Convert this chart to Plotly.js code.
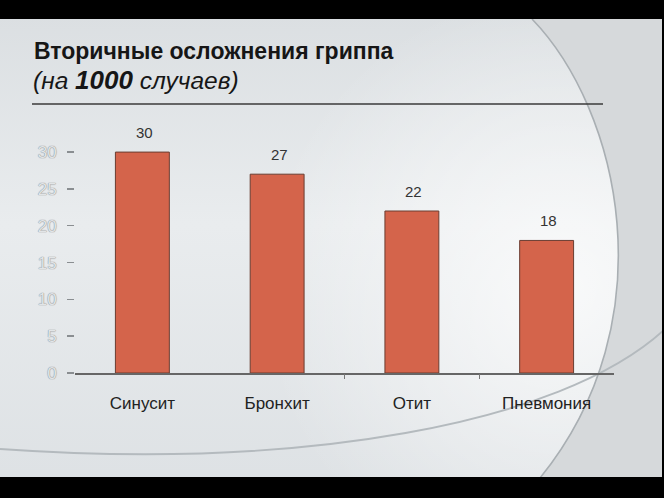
<!DOCTYPE html>
<html>
<head>
<meta charset="utf-8">
<script src="https://cdn.plot.ly/plotly-3.0.1.min.js"></script>
<style>
  html, body { margin: 0; padding: 0; background: #000; }
  #wrap { position: relative; width: 664px; height: 498px; overflow: hidden; }
  #bg { position: absolute; left: 0; top: 0; }
  #chart { position: absolute; left: 0; top: 0; width: 664px; height: 498px; }
</style>
</head>
<body>
<div id="wrap">
  <svg id="bg" width="664" height="498" xmlns="http://www.w3.org/2000/svg">
    <defs>
      <linearGradient id="lg" x1="0" y1="0" x2="0" y2="1">
        <stop offset="0" stop-color="#dadee1"/>
        <stop offset="0.45" stop-color="#e9ecee"/>
        <stop offset="1" stop-color="#dde1e4"/>
      </linearGradient>
      <radialGradient id="rg" cx="560" cy="290" r="300" gradientUnits="userSpaceOnUse">
        <stop offset="0" stop-color="#ffffff" stop-opacity="0.75"/>
        <stop offset="1" stop-color="#ffffff" stop-opacity="0"/>
      </radialGradient>
    </defs>
    <rect x="0" y="0" width="664" height="498" fill="url(#lg)"/>
    <rect x="0" y="0" width="664" height="498" fill="url(#rg)"/>
    <path d="M 532 19 C 620 110, 668 320, 540 478 L 664 478 L 664 19 Z" fill="#d6d9db"/>
    <path d="M 532 19 C 620 110, 668 320, 540 478" fill="none" stroke="#a9afb3" stroke-width="1.6"/>
    <path d="M 0 449 C 300 470, 560 425, 664 330" fill="none" stroke="#b4babe" stroke-width="1.8"/>
    <rect x="0" y="0" width="664" height="19" fill="#000"/>
    <rect x="0" y="477" width="664" height="21" fill="#000"/>
    <rect x="662" y="0" width="2" height="498" fill="#000"/>
  </svg>
  <div id="chart"></div>
</div>
<script>
const categories = ["Синусит", "Бронхит", "Отит", "Пневмония"];
const values = [30, 27, 22, 18];
const yTickVals = [0, 5, 10, 15, 20, 25, 30];
const yTickText = ["0", "5", "10", "15", "20", "25", "30"];
const boundaryTicks = [1.5, 2.5];
const titleLine1 = "Вторичные осложнения гриппа";
const titleLine2 = "<i>(на </i><b><i><span style=\"font-size:26px\">1000</span></i></b><i> случаев)</i>";

// plot area in pixels: left 75, right 614, top 130, bottom 373
const L = 75, W = 539, B = 373, H = 243;
const px = x => (x - L) / W;
const py = y => (B - y) / H;

const trace = {
  type: "bar",
  x: categories,
  y: values,
  width: 0.4,
  marker: { color: "#d4644b", line: { color: "#6a3d31", width: 1 } },
  hoverinfo: "x+y"
};

const labelAnns = categories.map((c, i) => ({
  x: c, y: values[i], xref: "x", yref: "y",
  text: String(values[i]), showarrow: false,
  yanchor: "bottom", yshift: 9, xshift: 2,
  font: { family: "Liberation Sans, Arial, sans-serif", size: 15, color: "#333333" }
}));

const titleAnns = [
  { xref: "paper", yref: "paper", x: px(32), y: py(51), xanchor: "left", yanchor: "middle",
    text: "<b>" + titleLine1 + "</b>", showarrow: false,
    font: { family: "Liberation Sans, Arial, sans-serif", size: 23, color: "#161616" } },
  { xref: "paper", yref: "paper", x: px(31), y: py(80), xanchor: "left", yanchor: "middle",
    text: titleLine2, showarrow: false,
    font: { family: "Liberation Sans, Arial, sans-serif", size: 24.5, color: "#161616" } }
];

const layout = {
  width: 664, height: 498,
  margin: { l: L, r: 664 - L - W, t: B - H, b: 498 - B, pad: 0 },
  paper_bgcolor: "rgba(0,0,0,0)",
  plot_bgcolor: "rgba(0,0,0,0)",
  showlegend: false,
  xaxis: {
    type: "category",
    showline: true, linecolor: "#666666", linewidth: 1.5,
    ticks: "",
    showgrid: false, zeroline: false,
    ticklabelstandoff: 14,
    tickfont: { family: "Liberation Sans, Arial, sans-serif", size: 17, color: "#222222" }
  },
  xaxis2: {
    overlaying: "x", anchor: "y", side: "bottom",
    range: [-0.5, 3.5], tickvals: boundaryTicks,
    showticklabels: false, showline: false, showgrid: false, zeroline: false,
    ticks: "outside", ticklen: 5, tickcolor: "#777777", tickwidth: 1
  },
  yaxis: {
    range: [0, 33],
    tickvals: yTickVals, ticktext: yTickText,
    showline: false, showgrid: false, zeroline: false,
    ticks: "outside", ticklen: 7, tickcolor: "#8a8e91", tickwidth: 1.5,
    ticklabelstandoff: 7,
    tickfont: { family: "Liberation Sans Narrow, Liberation Sans, Arial, sans-serif", size: 17,
                color: "#e2e5e7", shadow: "0 0 1px #8a8f93, 0 0 1px #8a8f93" }
  },
  annotations: labelAnns.concat(titleAnns),
  shapes: [
    { type: "line", xref: "paper", yref: "paper", x0: px(32), x1: px(603), y0: py(104), y1: py(104),
      line: { color: "#3a3a3a", width: 1.5 } }
  ]
};

const tickTrace = { type: "scatter", x: boundaryTicks, y: [0, 0], xaxis: "x2", yaxis: "y",
  mode: "markers", marker: { opacity: 0 }, hoverinfo: "skip", showlegend: false };

Plotly.newPlot("chart", [trace, tickTrace], layout, { staticPlot: true, displayModeBar: false });
</script>
</body>
</html>
